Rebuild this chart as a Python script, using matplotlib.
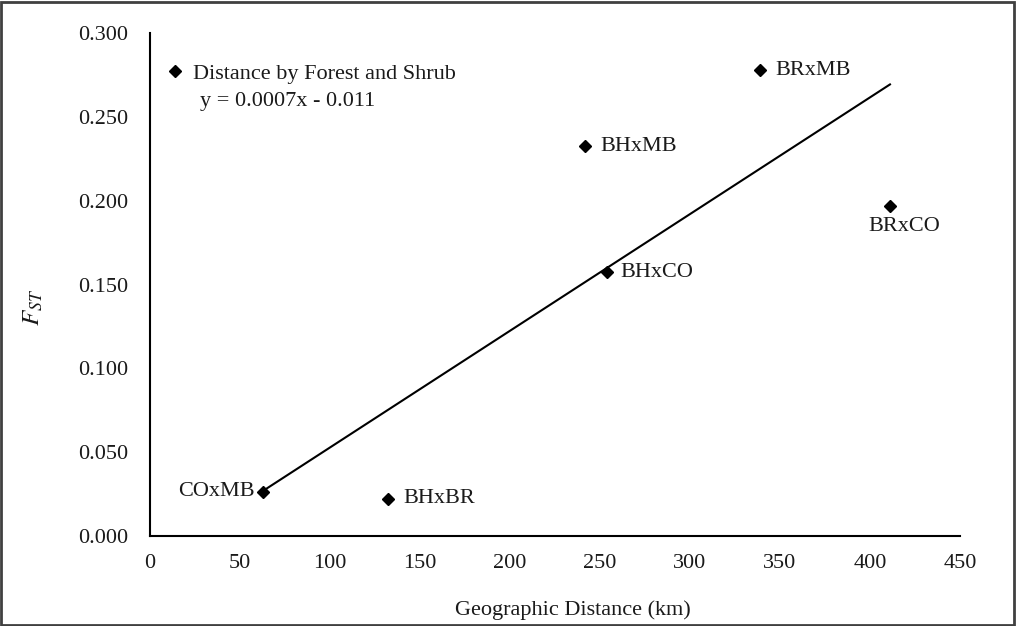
import matplotlib
matplotlib.use("Agg")
import matplotlib.pyplot as plt
from matplotlib.patches import Rectangle
import numpy as np

# Data
pair_labels = ["COxMB", "BHxBR", "BHxCO", "BHxMB", "BRxMB", "BRxCO"]
distance_km = [62.9, 132.4, 253.7, 241.7, 338.9, 411.1]
fst_values = [0.0264, 0.0221, 0.1574, 0.2326, 0.2779, 0.1970]
trend_slope = 0.000696
trend_intercept = -0.0168
equation_text = "y = 0.0007x - 0.011"
series_name = "Distance by Forest and Shrub"
x_ticks = [0, 50, 100, 150, 200, 250, 300, 350, 400, 450]
y_ticks = [0.0, 0.05, 0.10, 0.15, 0.20, 0.25, 0.30]

plt.rcParams['font.family'] = ['Liberation Serif', 'DejaVu Serif']
plt.rcParams['mathtext.fontset'] = 'stix'

FS = 16
TXT = '#1a1a1a'

fig = plt.figure(figsize=(10.16, 6.26), dpi=100)
ax = fig.add_axes([150/1016, 1-536/626, 810/1016, 503/626])

ax.plot(distance_km, fst_values, linestyle='none', marker='D', markersize=6.5,
        color='black', label=series_name)
xs = np.array([min(distance_km), max(distance_km)])
ax.plot(xs, trend_slope*xs + trend_intercept, color='black', linewidth=1.5)

# point labels (offsets in points)
offsets = {
    "COxMB": (-6, 0, 'right', 'center'),
    "BHxBR": (11, 0, 'left', 'center'),
    "BHxCO": (10, 0, 'left', 'center'),
    "BHxMB": (11, 0, 'left', 'center'),
    "BRxMB": (11, 0, 'left', 'center'),
    "BRxCO": (10, -15, 'center', 'center'),
}
for lab, x, y in zip(pair_labels, distance_km, fst_values):
    dx, dy, ha, va = offsets[lab]
    ax.annotate(lab, (x, y), xytext=(dx, dy), textcoords='offset points',
                ha=ha, va=va, fontsize=FS, color=TXT)

ax.set_xlim(0, 450)
ax.set_ylim(0, 0.3)
ax.set_xticks(x_ticks)
ax.set_yticks(y_ticks)
ax.set_xticklabels([str(v) for v in x_ticks])
ax.set_yticklabels([f"{v:.3f}" for v in y_ticks])
ax.tick_params(length=0, labelsize=FS, labelcolor=TXT)
ax.tick_params(axis='y', pad=16)
ax.tick_params(axis='x', pad=13)
for s in ['top', 'right']:
    ax.spines[s].set_visible(False)
for s in ['left', 'bottom']:
    ax.spines[s].set_linewidth(1.5)
    ax.spines[s].set_color('black')

ax.set_xlabel("Geographic Distance (km)", fontsize=FS, color=TXT)
ax.xaxis.set_label_coords(0.522, -0.128)
ax.set_ylabel(r"$F_{ST}$", fontsize=18, color=TXT)
ax.yaxis.set_label_coords(-0.1296, 0.455)

leg = ax.legend(loc='center left', bbox_to_anchor=(0.0173, 0.920), frameon=False,
                fontsize=FS, handletextpad=0.31, handlelength=1.0,
                borderaxespad=0, borderpad=0)
for t in leg.get_texts():
    t.set_color(TXT)
ax.text(0.0617, 0.863, equation_text, transform=ax.transAxes, fontsize=FS,
        ha='left', va='center', color=TXT)

fig.patches.append(Rectangle((0.001, 0.002), 0.997, 0.995, transform=fig.transFigure,
                             fill=False, edgecolor='#404040', linewidth=2))

fig.savefig("out.png", dpi=100)
